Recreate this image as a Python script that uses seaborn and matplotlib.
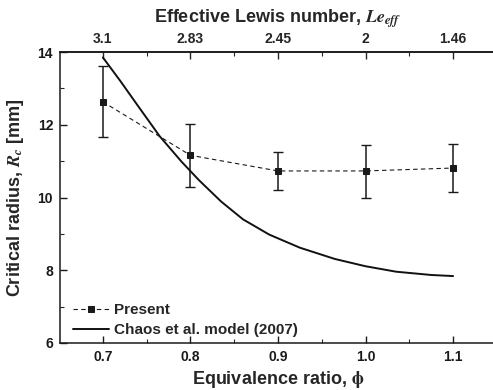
import numpy as np
import pandas as pd
import matplotlib
matplotlib.use("Agg")
import matplotlib.pyplot as plt
import seaborn as sns
from matplotlib.ticker import MultipleLocator, FixedLocator

# ---- data ----
phi_exp = [0.7, 0.8, 0.9, 1.0, 1.1]
rc_exp = [12.63, 11.16, 10.73, 10.73, 10.81]
rc_err_lo = [0.98, 0.86, 0.53, 0.73, 0.66]
rc_err_hi = [0.99, 0.86, 0.51, 0.72, 0.66]

phi_model = [0.70, 0.72, 0.74, 0.765, 0.79, 0.81, 0.835, 0.86, 0.89, 0.925, 0.965, 1.00, 1.035, 1.075, 1.10]
rc_model = [13.85, 13.20, 12.52, 11.68, 10.98, 10.47, 9.89, 9.40, 8.98, 8.62, 8.31, 8.11, 7.96, 7.87, 7.84]

le_ticks = [0.7, 0.8, 0.9, 1.0, 1.1]
le_labels = ["3.1", "2.83", "2.45", "2", "1.46"]

sns.set_theme(style="ticks")
plt.rcParams["font.family"] = ["Liberation Sans", "DejaVu Sans"]
plt.rcParams["font.weight"] = "bold"
plt.rcParams["mathtext.fontset"] = "stix"
plt.rcParams["xtick.direction"] = "in"
plt.rcParams["ytick.direction"] = "in"

fig = plt.figure(figsize=(4.93, 3.90), dpi=100)
ax = fig.add_axes([60 / 493, 47 / 390, 436 / 493, 291 / 390])

df_exp = pd.DataFrame({"phi": phi_exp, "rc": rc_exp})
df_mod = pd.DataFrame({"phi": phi_model, "rc": rc_model})

ax.errorbar(phi_exp, rc_exp, yerr=[rc_err_lo, rc_err_hi], fmt="none",
            ecolor="#1a1a1a", elinewidth=1.1, capsize=3.5, capthick=1.0, zorder=2)
sns.lineplot(data=df_exp, x="phi", y="rc", ax=ax, color="#1a1a1a", linewidth=0.8,
             linestyle=(0, (4, 3)), marker="s", markersize=5, markeredgecolor="#1a1a1a",
             markerfacecolor="#1a1a1a", label="Present", zorder=3)
sns.lineplot(data=df_mod, x="phi", y="rc", ax=ax, color="#111111", linewidth=1.4,
             label="Chaos et al. model (2007)", zorder=4)

ax.set_xlim(0.651, 1.149)
ax.set_ylim(6, 14)
ax.xaxis.set_major_locator(FixedLocator([0.7, 0.8, 0.9, 1.0, 1.1]))
ax.xaxis.set_minor_locator(FixedLocator([0.75, 0.85, 0.95, 1.05]))
ax.set_xticklabels(["0.7", "0.8", "0.9", "1.0", "1.1"])
ax.yaxis.set_major_locator(MultipleLocator(2))
ax.yaxis.set_minor_locator(MultipleLocator(1))
ax.tick_params(which="major", length=5, width=1.0, labelsize=10, pad=5, colors="#1a1a1a")
ax.tick_params(which="minor", length=3, width=0.8)
for lab in ax.get_xticklabels() + ax.get_yticklabels():
    lab.set_fontweight("bold")
for sp in ax.spines.values():
    sp.set_linewidth(1.1)
    sp.set_color("#1a1a1a")

ax.set_xlabel(r"Equivalence ratio, $\mathbf{\phi}$", fontsize=13, fontweight="bold", labelpad=4)
ax.set_ylabel(r"Critical radius, $R_c$ [mm]", fontsize=13, fontweight="bold", labelpad=8)

top = ax.secondary_xaxis("top")
top.xaxis.set_major_locator(FixedLocator(le_ticks))
top.xaxis.set_minor_locator(FixedLocator([0.75, 0.85, 0.95, 1.05]))
top.set_xticklabels(le_labels)
top.tick_params(which="major", direction="in", length=5, width=1.0, labelsize=10, pad=4)
top.tick_params(which="minor", direction="in", length=3, width=0.8)
for lab in top.get_xticklabels():
    lab.set_fontweight("bold")
top.set_xlabel(r"Effective Lewis number, $Le_{eff}$", fontsize=13, fontweight="bold", labelpad=7)

leg = ax.legend(loc="lower left", bbox_to_anchor=(0.016, 0.0), frameon=False,
                handlelength=2.35, handletextpad=0.33, labelspacing=0.37,
                borderaxespad=0.1, borderpad=0.3, prop={"weight": "bold", "size": 11})

fig.savefig("out.png", dpi=100)
